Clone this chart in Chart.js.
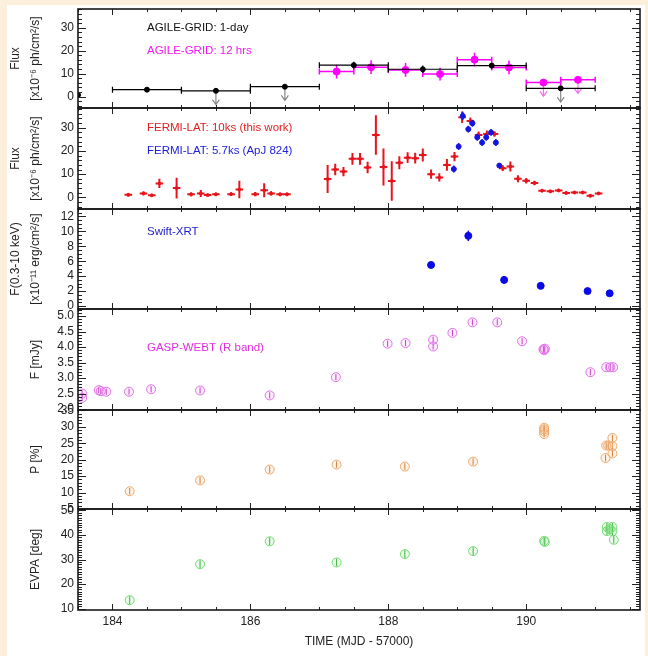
<!DOCTYPE html>
<html><head><meta charset="utf-8">
<script src="https://cdn.jsdelivr.net/npm/chart.js@4.4.1/dist/chart.umd.min.js"></script>
<style>
html,body{margin:0;padding:0;background:#fcefdc;}
#wrap{position:relative;width:648px;height:656px;overflow:hidden;background:#fcefdc;}
#inner{position:absolute;left:7px;top:5px;width:638px;height:651px;background:#fff;}
canvas{position:absolute;left:0;}
</style></head><body>
<div id="wrap"><div id="inner"></div>
<canvas id="c1"></canvas><canvas id="c2"></canvas><canvas id="c3"></canvas>
<canvas id="c4"></canvas><canvas id="c5"></canvas><canvas id="c6"></canvas>
</div>
<script>
// ---------------- DATA ----------------
const xLabelTicks = [184, 186, 188, 190];

// AGILE-GRID 1-day
const agileDayX = [183.5, 184.5, 185.5, 186.5, 187.5, 188.5, 189.5, 190.5];
const agileDayY = [0.7, 3.0, 2.5, 4.3, 13.7, 11.9, 13.5, 3.6];
const agileDayXErr = [0, 0.5, 0.5, 0.5, 0.5, 0.5, 0.5, 0.5];
const agileDayYErr = [0.8, 1.0, 0, 0, 1.5, 1.6, 1.3, 0];
const agileDayUL = [false, false, true, true, false, false, false, true];

// AGILE-GRID 12 hrs
const agile12X = [187.25, 187.75, 188.25, 188.75, 189.25, 189.75, 190.25, 190.75];
const agile12Y = [10.9, 12.8, 11.6, 9.8, 16.1, 12.7, 6.1, 7.3];
const agile12YErr = [3.0, 3.0, 3.0, 2.8, 3.0, 3.0, 0, 0];
const agile12UL = [false, false, false, false, false, false, true, true];

// FERMI-LAT 10ks (this work)
const fermiX = [184.23,184.45,184.57,184.68,184.93,185.14,185.28,185.38,185.50,185.72,
  185.84,186.07,186.20,186.30,186.43,186.53,187.12,187.23,187.35,187.48,
  187.59,187.70,187.82,187.93,188.05,188.16,188.28,188.39,188.50,188.62,
  188.74,188.85,188.96,189.07,189.19,189.31,189.43,189.54,189.66,189.77,
  189.88,190.00,190.12,190.23,190.35,190.47,190.58,190.70,190.82,190.93,191.05];
const fermiY = [1.1,1.7,0.9,6.0,4.0,1.3,1.7,1.0,1.3,1.4,
  3.4,1.4,3.1,1.7,1.3,1.3,7.9,12.0,11.1,16.6,
  16.6,12.9,26.9,13.1,7.1,14.9,17.1,16.9,18.3,10.0,
  8.6,14.0,17.6,34.5,32.9,26.9,27.3,27.3,12.6,13.3,
  8.0,7.2,6.2,2.9,2.6,3.0,1.9,2.1,2.1,0.7,1.7];
const fermiYErr = [0.7,0.8,0.6,2.0,4.5,0.8,1.5,0.6,0.7,0.8,
  3.8,0.9,3.0,0.9,0.7,0.7,6.0,2.5,2.0,2.5,
  2.5,2.5,8.5,8.0,8.5,2.8,2.3,2.3,2.8,2.0,
  1.8,2.5,2.0,2.5,1.5,1.5,1.5,1.2,1.2,2.2,
  1.5,1.2,1.0,0.6,0.6,0.6,0.6,0.6,0.6,0.6,0.6];

// FERMI-LAT 5.7ks (ApJ 824)
const fermiBX = [188.95, 189.02, 189.08, 189.16, 189.22, 189.29, 189.36, 189.42, 189.49, 189.56, 189.61];
const fermiBY = [12.2, 21.9, 35.1, 29.4, 31.9, 25.9, 23.6, 25.9, 28.0, 23.6, 13.7];
const fermiBYErr = [1.5, 1.5, 1.8, 1.5, 1.5, 1.5, 1.5, 1.5, 1.5, 1.5, 1.0];

// Swift-XRT
const swiftX = [188.62, 189.16, 189.68, 190.21, 190.89, 191.21];
const swiftY = [5.5, 9.4, 3.5, 2.7, 2.0, 1.7];
const swiftYErr = [0.2, 0.7, 0.5, 0.3, 0.4, 0.25];

// GASP-WEBT R band
const gaspX = [183.56, 183.56, 183.80, 183.83, 183.91, 184.24, 184.56, 185.27, 186.28, 187.24,
  187.99, 188.25, 188.65, 188.65, 188.93, 189.22, 189.58, 189.94, 190.25, 190.26,
  190.27, 190.93, 191.16, 191.22, 191.26];
const gaspY = [2.50, 2.36, 2.61, 2.58, 2.56, 2.56, 2.64, 2.60, 2.44, 3.03,
  4.11, 4.13, 4.24, 4.02, 4.46, 4.80, 4.80, 4.19, 3.93, 3.90,
  3.95, 3.19, 3.35, 3.35, 3.35];

// Polarization degree
const polX = [184.25, 185.27, 186.28, 187.25, 188.24, 189.23, 190.26, 190.26, 190.26, 190.26,
  191.15, 191.16, 191.19, 191.25, 191.25, 191.25];
const polY = [10.4, 13.7, 17.0, 18.5, 17.9, 19.4, 29.7, 29.2, 28.6, 27.8,
  20.5, 24.3, 24.3, 26.6, 24.1, 21.9];

// EVPA
const evpaX = [184.25, 185.27, 186.28, 187.25, 188.24, 189.23, 190.26, 190.27,
  191.17, 191.25, 191.17, 191.25, 191.21, 191.27];
const evpaY = [13.5, 28.1, 37.4, 28.8, 32.2, 33.4, 37.6, 37.1,
  43.2, 43.2, 41.5, 41.5, 42.3, 38.0];

// ---------------- RENDERING ----------------
const FONT = '"Liberation Sans", Arial, sans-serif';
Chart.defaults.font.family = FONT;
const XMIN = 183.5, XMAX = 191.65;

const pts = (xs, ys) => xs.map((x, i) => ({x: x, y: ys[i]}));

const errPlugin = {
  id: 'errbars',
  beforeDatasetDraw(chart, args) {
    const ds = chart.data.datasets[args.index];
    const e = ds.err;
    if (!e) return;
    const xs = chart.scales.x, ys = chart.scales.y, ctx = chart.ctx, a = chart.chartArea;
    ctx.save();
    ctx.beginPath(); ctx.rect(a.left, a.top, a.right - a.left, a.bottom - a.top); ctx.clip();
    ds.data.forEach((p, i) => {
      const px = xs.getPixelForValue(p.x), py = ys.getPixelForValue(p.y);
      const xe = Array.isArray(e.x) ? e.x[i] : (e.x || 0);
      const ye = Array.isArray(e.y) ? e.y[i] : (e.y || 0);
      ctx.strokeStyle = e.color; ctx.lineWidth = e.width || 1;
      ctx.beginPath();
      if (xe) {
        const x0 = xs.getPixelForValue(p.x - xe), x1 = xs.getPixelForValue(p.x + xe);
        ctx.moveTo(x0, py); ctx.lineTo(x1, py);
        if (e.cap) {
          ctx.moveTo(x0, py - e.cap); ctx.lineTo(x0, py + e.cap);
          ctx.moveTo(x1, py - e.cap); ctx.lineTo(x1, py + e.cap);
        }
      }
      if (ye) {
        ctx.moveTo(px, ys.getPixelForValue(p.y - ye)); ctx.lineTo(px, ys.getPixelForValue(p.y + ye));
      }
      ctx.stroke();
      if (e.ul && e.ul[i]) {
        const tip = ys.getPixelForValue(p.y - 6);
        ctx.strokeStyle = e.ulColor; ctx.lineWidth = 1.2;
        ctx.beginPath();
        ctx.moveTo(px, py + 2); ctx.lineTo(px, tip);
        ctx.moveTo(px - 3.5, tip - 5); ctx.lineTo(px, tip); ctx.lineTo(px + 3.5, tip - 5);
        ctx.stroke();
      }
    });
    ctx.restore();
  }
};

const framePlugin = {
  id: 'frame',
  afterDraw(chart) {
    const o = chart.options.plugins.frame;
    const {ctx, chartArea: a} = chart;
    const xs = chart.scales.x, ys = chart.scales.y;
    ctx.save();
    ctx.strokeStyle = '#222'; ctx.lineWidth = 1;
    ctx.beginPath();
    for (let k = 0; k <= 17; k++) {
      const v = 183.5 + k * 0.5;
      if (v < xs.min || v > xs.max) continue;
      const px = Math.round(xs.getPixelForValue(v)) + 0.5;
      const L = xLabelTicks.includes(v) ? 6 : 3;
      ctx.moveTo(px, a.bottom); ctx.lineTo(px, a.bottom - L);
      ctx.moveTo(px, a.top); ctx.lineTo(px, a.top + L);
    }
    const step = o.minor;
    const n0 = Math.ceil(ys.min / step - 1e-9), n1 = Math.floor(ys.max / step + 1e-9);
    const majors = ys.ticks.map(t => t.value);
    for (let n = n0; n <= n1; n++) {
      const v = n * step;
      const py = Math.round(ys.getPixelForValue(v)) + 0.5;
      const major = majors.some(m => Math.abs(m - v) < step / 10);
      const L = major ? 8 : 4;
      ctx.moveTo(a.left, py); ctx.lineTo(a.left + L, py);
      ctx.moveTo(a.right, py); ctx.lineTo(a.right - L, py);
    }
    ctx.stroke();
    ctx.lineWidth = 1.6; ctx.strokeStyle = '#1a1a1a';
    ctx.strokeRect(a.left, a.top, a.right - a.left, a.bottom - a.top);
    ctx.font = '11.5px ' + FONT; ctx.textBaseline = 'middle'; ctx.textAlign = 'left';
    (o.texts || []).forEach(t => {
      ctx.fillStyle = t.color;
      ctx.fillText(t.text, xs.getPixelForValue(t.x), ys.getPixelForValue(t.y));
    });
    ctx.restore();
  }
};

function panel(cfg) {
  const cv = document.getElementById(cfg.id);
  const padTop = 12, padBot = 12;
  const h = (cfg.bottom - cfg.top) + padTop + (cfg.bottomAxis ? 46 : padBot);
  cv.width = 648; cv.height = h;
  cv.style.width = '648px'; cv.style.height = h + 'px';
  cv.style.top = (cfg.top - padTop) + 'px';
  const multi = Array.isArray(cfg.yTitle);
  return new Chart(cv, {
    type: 'scatter',
    data: {datasets: cfg.datasets},
    options: {
      responsive: false, animation: false, devicePixelRatio: 1,
      layout: {padding: {left: 0, right: 8, top: padTop, bottom: cfg.bottomAxis ? 0 : padBot}},
      plugins: {legend: {display: false}, tooltip: {enabled: false},
        frame: {minor: cfg.minor, texts: cfg.texts}},
      scales: {
        x: {
          type: 'linear', min: XMIN, max: XMAX, display: !!cfg.bottomAxis,
          grid: {display: false, drawTicks: false}, border: {display: false},
          afterBuildTicks: s => { s.ticks = xLabelTicks.map(v => ({value: v})); },
          afterFit: s => { s.height = cfg.bottomAxis ? 46 : 0; },
          ticks: {autoSkip: false, maxRotation: 0, padding: 4, color: '#222',
            font: {family: FONT, size: 12}, callback: v => String(v)},
          title: {display: true, text: 'TIME (MJD - 57000)', color: '#222',
            font: {family: FONT, size: 12}, padding: {top: 0, bottom: 7}}
        },
        y: {
          type: 'linear', min: cfg.yMin, max: cfg.yMax,
          grid: {display: false, drawTicks: false}, border: {display: false},
          afterBuildTicks: s => { s.ticks = cfg.yTicks.map(v => ({value: v})); },
          afterFit: s => { s.width = 78; },
          ticks: {autoSkip: false, padding: 4, color: '#222',
            font: {family: FONT, size: 12}, callback: cfg.fmt || (v => String(v))},
          title: {display: true, text: cfg.yTitle, color: '#222',
            font: {family: FONT, size: 12, lineHeight: 20 / 12},
            padding: {top: multi ? 6 : 26, bottom: 0}}
        }
      }
    },
    plugins: [errPlugin, framePlugin]
  });
}

const circ = (data, border, fill, errColor, yerr) => ({
  data, pointStyle: 'circle', pointRadius: 4.5, borderWidth: 1,
  borderColor: border, backgroundColor: fill,
  err: {y: yerr, color: errColor, width: 1}
});

// Panel 1: AGILE
panel({
  id: 'c1', top: 9, bottom: 108, yMin: -5, yMax: 38.2,
  yTicks: [0, 10, 20, 30], minor: 2,
  yTitle: ['Flux', '[x10\u207B\u2076 ph/cm\u00B2/s]'],
  texts: [
    {text: 'AGILE-GRID: 1-day', x: 184.5, y: 30, color: '#111'},
    {text: 'AGILE-GRID: 12 hrs', x: 184.5, y: 20, color: '#f018f0'}
  ],
  datasets: [
    {data: pts(agileDayX, agileDayY), pointRadius: 2.5, backgroundColor: '#000', borderColor: '#000',
      err: {x: agileDayXErr, y: agileDayYErr, cap: 3, color: '#000', width: 1.2, ul: agileDayUL, ulColor: '#888'}},
    {data: pts(agile12X, agile12Y), pointRadius: 3.5, backgroundColor: '#ff00ff', borderColor: '#ff00ff',
      err: {x: 0.25, y: agile12YErr, cap: 3, color: '#ff00ff', width: 1.5, ul: agile12UL, ulColor: '#f070f0'}}
  ]
});

// Panel 2: FERMI
panel({
  id: 'c2', top: 108, bottom: 209, yMin: -5, yMax: 38.5,
  yTicks: [0, 10, 20, 30], minor: 2,
  yTitle: ['Flux', '[x10\u207B\u2076 ph/cm\u00B2/s]'],
  texts: [
    {text: 'FERMI-LAT: 10ks (this work)', x: 184.5, y: 30, color: '#e02020'},
    {text: 'FERMI-LAT: 5.7ks (ApJ 824)', x: 184.5, y: 20, color: '#2020e0'}
  ],
  datasets: [
    {data: pts(fermiBX, fermiBY), pointStyle: 'circle', pointRadius: 2.5, backgroundColor: '#1515e0', borderColor: '#1515e0',
      err: {x: 0.03, y: fermiBYErr, color: '#1515e0', width: 1.5}},
    {data: pts(fermiX, fermiY), pointRadius: 1.5, backgroundColor: '#e8141c', borderColor: '#e8141c',
      err: {x: 0.055, y: fermiYErr, color: '#e8141c', width: 2}}
  ]
});

// Panel 3: Swift-XRT
panel({
  id: 'c3', top: 209, bottom: 309, yMin: -0.4, yMax: 13,
  yTicks: [0, 2, 4, 6, 8, 10, 12], minor: 0.5,
  yTitle: ['F(0.3-10 keV)', '[x10\u207B\u00B9\u00B9 erg/cm\u00B2/s]'],
  texts: [{text: 'Swift-XRT', x: 184.5, y: 10, color: '#2222cc'}],
  datasets: [
    {data: pts(swiftX, swiftY), pointRadius: 3.5, backgroundColor: '#0a0ae6', borderColor: '#0a0ae6',
      err: {y: swiftYErr, color: '#0a0ae6', width: 1.5}}
  ]
});

// Panel 4: GASP-WEBT
panel({
  id: 'c4', top: 309, bottom: 410, yMin: 1.97, yMax: 5.23,
  yTicks: [2.0, 2.5, 3.0, 3.5, 4.0, 4.5, 5.0], minor: 0.1,
  fmt: v => v.toFixed(1),
  yTitle: 'F [mJy]',
  texts: [{text: 'GASP-WEBT (R band)', x: 184.5, y: 3.97, color: '#e030e0'}],
  datasets: [circ(pts(gaspX, gaspY), '#e070e8', 'rgba(240,150,240,0.15)', '#c030c0', 0.1)]
});

// Panel 5: Polarization
panel({
  id: 'c5', top: 410, bottom: 509, yMin: 5, yMax: 35.1,
  yTicks: [5, 10, 15, 20, 25, 30, 35], minor: 1,
  yTitle: 'P [%]',
  datasets: [circ(pts(polX, polY), '#f0a868', 'rgba(245,190,140,0.2)', '#c07030', 1.0)]
});

// Panel 6: EVPA
panel({
  id: 'c6', top: 509, bottom: 610, yMin: 9.5, yMax: 50.5, bottomAxis: true,
  yTicks: [10, 20, 30, 40, 50], minor: 1,
  yTitle: 'EVPA [deg]',
  datasets: [circ(pts(evpaX, evpaY), '#70dd70', 'rgba(150,230,150,0.2)', '#30a030', 1.6)]
});
</script>
</body></html>
